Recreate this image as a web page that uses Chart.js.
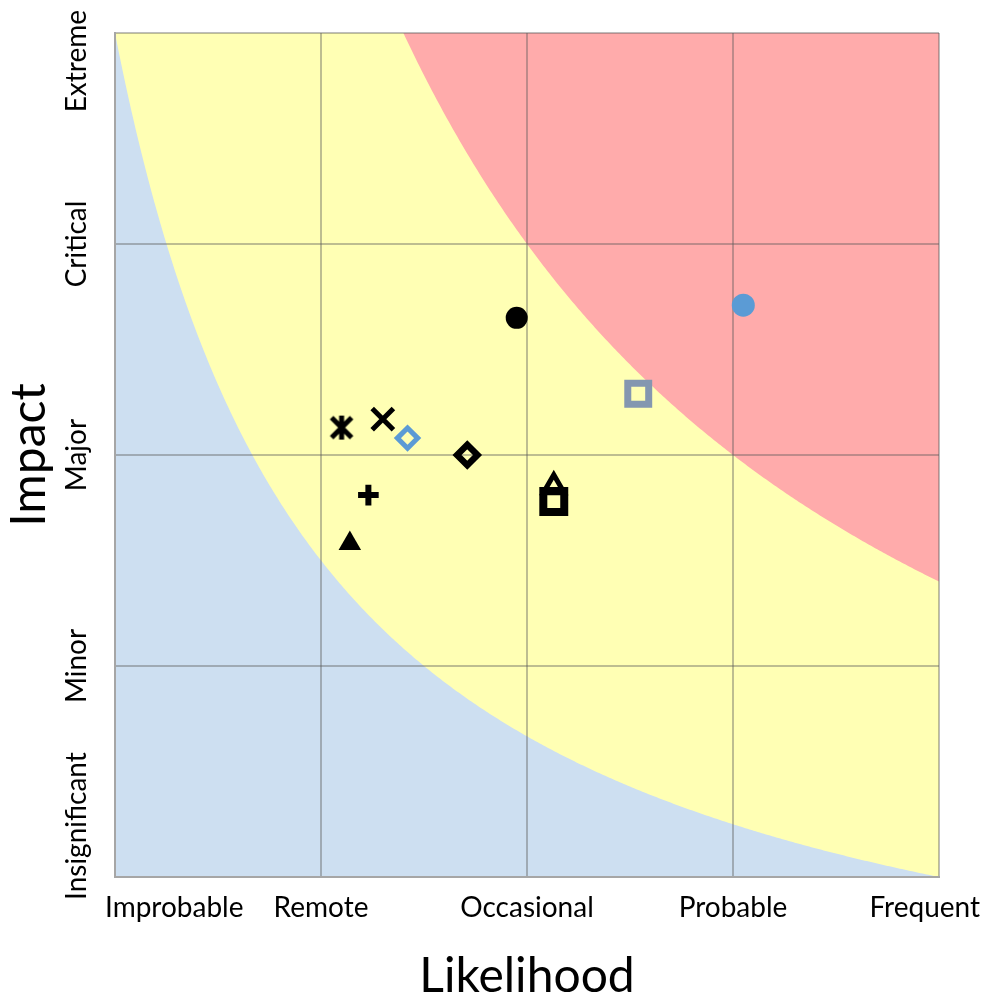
<!DOCTYPE html>
<html>
<head>
<meta charset="utf-8">
<script src="https://cdn.jsdelivr.net/npm/chart.js@4.4.1/dist/chart.umd.min.js"></script>
<style>
  body { margin: 0; background: #fff; }
  canvas { display: block; }
</style>
</head>
<body>
<canvas id="riskChart" width="984" height="996"></canvas>
<script>
const xLabels = ["Improbable", "Remote", "Occasional", "Probable", "Frequent"];
const yLabels = ["Insignificant", "Minor", "Major", "Critical", "Extreme"];

// one entry per risk, first one is drawn on top
const riskNames = ["R1", "R2", "R3", "R4", "R5", "R6", "R7", "R8", "R9", "R10", "R11"];
const likelihood = [4.05, 2.95, 3.54, 2.10, 2.30, 2.42, 2.71, 2.23, 2.14, 3.13, 3.13];
const impact = [3.71, 3.65, 3.29, 3.13, 3.17, 3.08, 3.00, 2.81, 2.58, 2.78, 2.85];

// likelihood x impact products where the zones change
const zoneLimits = [5, 12];
const zoneColors = ["#cddff1", "#ffffb4", "#ffabab"];

const blue = "#5b9bd5";

// Excel style "star" marker: an X with a vertical bar
const starMark = document.createElement("canvas");
starMark.width = 28;
starMark.height = 28;
const sc = starMark.getContext("2d");
sc.strokeStyle = "#000";
sc.lineWidth = 5;
sc.beginPath();
sc.moveTo(4, 4); sc.lineTo(24, 24);
sc.moveTo(24, 4); sc.lineTo(4, 24);
sc.moveTo(14, 2); sc.lineTo(14, 26);
sc.stroke();

const markers = [
  { style: "circle", r: 11.5, fill: blue, line: blue, w: 0 },
  { style: "circle", r: 11, fill: "#000", line: "#000", w: 0 },
  { style: "rect", r: 14.8, fill: "transparent", line: "#8497b0", w: 7 },
  { style: starMark, r: 14, fill: "#000", line: "#000", w: 0 },
  { style: "crossRot", r: 15, fill: "#000", line: "#000", w: 5 },
  { style: "rectRot", r: 10.2, fill: "transparent", line: blue, w: 5 },
  { style: "rectRot", r: 10.2, fill: "transparent", line: "#000", w: 6.5 },
  { style: "cross", r: 10.3, fill: "#000", line: "#000", w: 6 },
  { style: "triangle", r: 13, fill: "#000", line: "#000", w: 0 },
  { style: "rect", r: 14.8, fill: "transparent", line: "#000", w: 8 },
  { style: "triangle", r: 12, fill: "transparent", line: "#000", w: 5 }
];

const datasets = riskNames.map((name, i) => ({
  label: name,
  data: [{ x: likelihood[i], y: impact[i] }],
  pointStyle: markers[i].style,
  pointRadius: markers[i].r,
  pointBackgroundColor: markers[i].fill,
  pointBorderColor: markers[i].line,
  pointBorderWidth: markers[i].w,
  pointHoverRadius: markers[i].r
}));

// background risk zones, bounded by curves likelihood * impact = limit
const zonePlugin = {
  id: "zones",
  beforeDraw(chart) {
    const { ctx, chartArea: a, scales: { x, y } } = chart;
    ctx.save();
    ctx.beginPath();
    ctx.rect(a.left, a.top, a.right - a.left, a.bottom - a.top);
    ctx.clip();
    ctx.fillStyle = zoneColors[2];
    ctx.fillRect(a.left, a.top, a.right - a.left, a.bottom - a.top);
    [1, 0].forEach(k => {
      const limit = zoneLimits[k];
      ctx.fillStyle = zoneColors[k];
      ctx.beginPath();
      ctx.moveTo(x.getPixelForValue(1), y.getPixelForValue(1));
      const steps = 400;
      for (let s = 0; s <= steps; s++) {
        const v = 1 + 4 * s / steps;
        const w = Math.max(1, Math.min(5, limit / v));
        ctx.lineTo(x.getPixelForValue(v), y.getPixelForValue(w));
      }
      ctx.lineTo(x.getPixelForValue(5), y.getPixelForValue(1));
      ctx.closePath();
      ctx.fill();
    });
    ctx.restore();
  }
};

// tick labels, pushed inwards at the ends like the original
const labelPlugin = {
  id: "edgeLabels",
  afterDraw(chart) {
    const { ctx, chartArea: a, scales: { x, y } } = chart;
    ctx.save();
    ctx.font = "28px Lato";
    ctx.fillStyle = "#000";
    ctx.textBaseline = "alphabetic";
    ctx.textAlign = "left";
    xLabels.forEach((t, i) => {
      const w = ctx.measureText(t).width;
      let left = x.getPixelForValue(i + 1) - w / 2;
      left = Math.max(left, a.left - 10);
      left = Math.min(left, chart.width - 4 - w);
      ctx.fillText(t, left, a.bottom + 40);
    });
    yLabels.forEach((t, i) => {
      const w = ctx.measureText(t).width;
      let start = y.getPixelForValue(i + 1) + w / 2;
      start = Math.min(start, a.bottom + 23);
      start = Math.max(start, 10 + w);
      ctx.save();
      ctx.translate(a.left - 29, start);
      ctx.rotate(-Math.PI / 2);
      ctx.fillText(t, 0, 0);
      ctx.restore();
    });
    ctx.restore();
  }
};

const gridStyle = {
  color: "rgba(90,90,90,0.4)",
  lineWidth: 2,
  drawTicks: false
};

new Chart(document.getElementById("riskChart"), {
  type: "scatter",
  data: { datasets: datasets },
  options: {
    responsive: false,
    animation: false,
    layout: { padding: { top: 33, right: 45, left: 0, bottom: 0 } },
    plugins: {
      legend: { display: false },
      tooltip: { enabled: false }
    },
    scales: {
      x: {
        min: 1,
        max: 5,
        ticks: { display: false, stepSize: 1 },
        grid: gridStyle,
        border: { color: "#a6a6a6", width: 2 },
        title: {
          display: true,
          text: "Likelihood",
          color: "#000",
          font: { family: "Lato", size: 48, lineHeight: 0.8 },
          padding: { top: 0, bottom: 0 }
        },
        afterFit: s => { s.height = 119; }
      },
      y: {
        min: 1,
        max: 5,
        ticks: { display: false, stepSize: 1 },
        grid: gridStyle,
        border: { color: "#a6a6a6", width: 2 },
        title: {
          display: true,
          text: "Impact",
          color: "#000",
          font: { family: "Lato", size: 48, lineHeight: 1 },
          padding: { top: 6, bottom: 0 }
        },
        afterFit: s => { s.width = 115; }
      }
    }
  },
  plugins: [zonePlugin, labelPlugin]
});
</script>
</body>
</html>
